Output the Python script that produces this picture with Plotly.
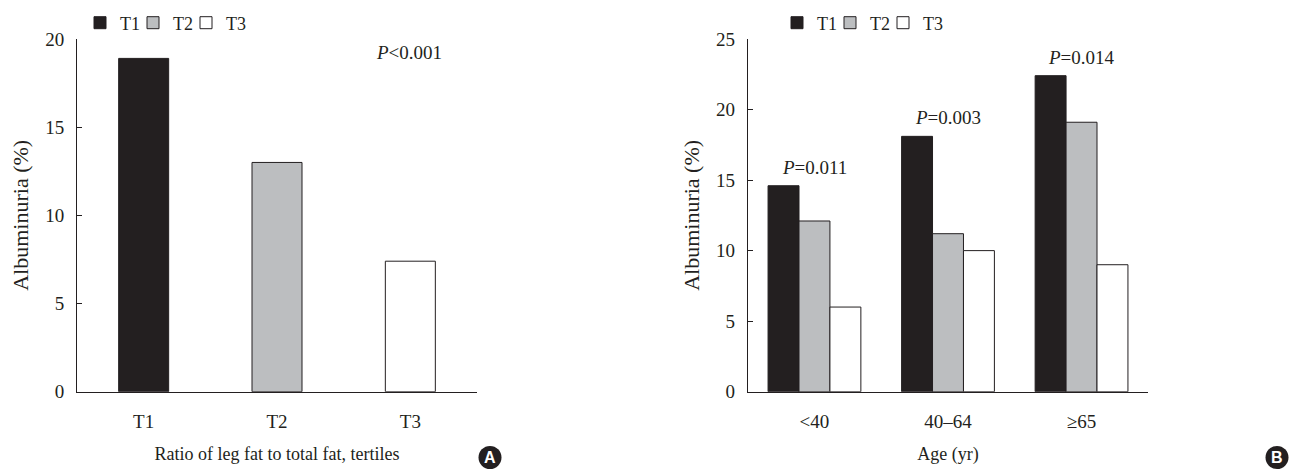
import plotly.graph_objects as go

# ---- data ----
tertiles = ["T1", "T2", "T3"]
panel_a_values = [18.9, 13.0, 7.4]

age_groups = ["<40", "40–64", "≥65"]
age_tick_text = ["&lt;40", "40–64", "≥65"]
b_t1 = [14.6, 18.1, 22.4]
b_t2 = [12.1, 11.2, 19.1]
b_t3 = [6.0, 10.0, 9.0]
b_pvalues = ["<i>P</i>=0.011", "<i>P</i>=0.003", "<i>P</i>=0.014"]
a_pvalue = "<i>P</i>&lt;0.001"

colors = ["#231f20", "#bcbec0", "#ffffff"]
legend_widths = [8, 8, 22]
edge = "#231f20"
FONT = "Liberation Serif, Times New Roman, serif"

fig = go.Figure()

for name, val, col, lw in zip(tertiles, panel_a_values, colors, legend_widths):
    fig.add_trace(go.Bar(
        x=[name], y=[val], name=name, marker=dict(color=col, line=dict(color=edge, width=1)),
        width=0.375, offsetgroup="a", xaxis="x", yaxis="y", legend="legend", legendwidth=lw,
    ))

for name, vals, col, lw in zip(tertiles, [b_t1, b_t2, b_t3], colors, legend_widths):
    fig.add_trace(go.Bar(
        x=age_groups, y=vals, name=name, marker=dict(color=col, line=dict(color=edge, width=1)),
        xaxis="x2", yaxis="y2", legend="legend2", legendwidth=lw,
    ))

axis_common = dict(showline=True, linecolor=edge, linewidth=1, showgrid=False, zeroline=False,
                   automargin=False, tickfont=dict(family=FONT, size=19, color="#231f20"))

annotations = [
    dict(text=a_pvalue, xref="x domain", yref="y domain", x=0.83, y=0.963, xanchor="center",
         yanchor="middle", showarrow=False, font=dict(family=FONT, size=19, color="#231f20")),
]
for g, v, p in zip(age_groups, b_t1, b_pvalues):
    annotations.append(dict(text=p, xref="x2", yref="y2", x=g, y=v, xanchor="center", yanchor="bottom",
                            yshift=6, showarrow=False, font=dict(family=FONT, size=19, color="#231f20")))

letters = [("A", 490 / 1291, 1 - 457.5 / 470), ("B", 1277 / 1291, 1 - 457.5 / 470)]
shapes = []
for letter, lx, ly in letters:
    shapes.append(dict(type="circle", xref="paper", yref="paper", xsizemode="pixel", ysizemode="pixel",
                       xanchor=lx, yanchor=ly, x0=-11.5, x1=11.5, y0=-11.5, y1=11.5,
                       fillcolor="#231f20", line=dict(width=0)))
    annotations.append(dict(text=f"<b>{letter}</b>", xref="paper", yref="paper", x=lx, y=ly,
                            showarrow=False, xanchor="center", yanchor="middle",
                            font=dict(family="Liberation Sans", size=16, color="white")))

legend_common = dict(orientation="h", xanchor="left", yanchor="middle",
                     y=1 - 23 / 470,
                     font=dict(family=FONT, size=18, color="#231f20"), itemwidth=30,
                     entrywidthmode="pixels",
                     bgcolor="rgba(0,0,0,0)", traceorder="normal", itemclick=False)

fig.update_layout(
    width=1291, height=470, autosize=False,
    margin=dict(l=0, r=0, t=0, b=0, pad=0),
    paper_bgcolor="white", plot_bgcolor="white",
    barmode="group", bargap=0.305, bargroupgap=0,
    font=dict(family=FONT, color="#231f20"),
    xaxis=dict(domain=[77 / 1291, 477 / 1291], anchor="y", range=[-0.5, 2.5], ticks="",
               ticklabelstandoff=12,
               title=dict(text="Ratio of leg fat to total fat, tertiles", standoff=16,
                          font=dict(family=FONT, size=18)), **axis_common),
    yaxis=dict(domain=[1 - 391.7 / 470, 1 - 39 / 470], anchor="x", range=[0, 20], tickvals=[0, 5, 10, 15, 20],
               ticks="inside", ticklen=5, tickcolor=edge, ticklabelstandoff=8,
               title=dict(text="Albuminuria (%)", standoff=10, font=dict(family=FONT, size=22)), **axis_common),
    xaxis2=dict(domain=[747.7 / 1291, 1148.3 / 1291], anchor="y2", range=[-0.5, 2.5], ticks="",
                tickvals=age_groups, ticktext=age_tick_text, ticklabelstandoff=12,
                title=dict(text="Age (yr)", standoff=16, font=dict(family=FONT, size=18)), **axis_common),
    yaxis2=dict(domain=[1 - 391.7 / 470, 1 - 39 / 470], anchor="x2", range=[0, 25],
                tickvals=[0, 5, 10, 15, 20, 25],
                ticks="inside", ticklen=5, tickcolor=edge, ticklabelstandoff=8,
                title=dict(text="Albuminuria (%)", standoff=10, font=dict(family=FONT, size=22)), **axis_common),
    legend=dict(x=80 / 1291, **legend_common),
    legend2=dict(x=777 / 1291, **legend_common),
    annotations=annotations,
    shapes=shapes,
    showlegend=True,
)

fig.write_html("out.html")
